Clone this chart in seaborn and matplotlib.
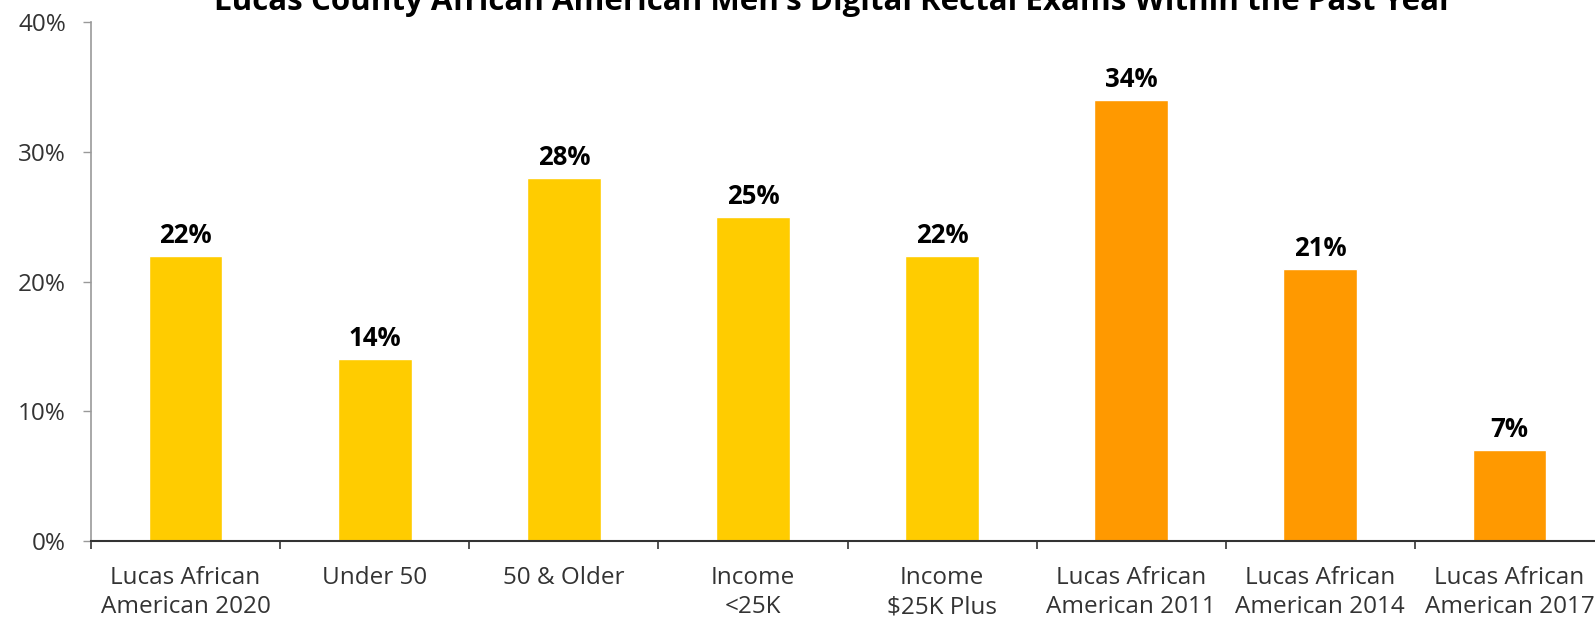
import pandas as pd
import numpy as np
import matplotlib
matplotlib.use("Agg")
import matplotlib.pyplot as plt
import seaborn as sns

# Data
categories = ["Lucas African\nAmerican 2020", "Under 50", "50 & Older", "Income\n<25K",
              "Income\n$25K Plus", "Lucas African\nAmerican 2011", "Lucas African\nAmerican 2014",
              "Lucas African\nAmerican 2017"]
values = [22, 14, 28, 25, 22, 34, 21, 7]
groups = ["2020", "2020", "2020", "2020", "2020", "trend", "trend", "trend"]
y_ticks = [0, 10, 20, 30, 40]
title = "Lucas County African American Men's Digital Rectal Exams Within the Past Year"

df = pd.DataFrame({"category": categories, "value": values, "group": groups})

sns.set_theme(style="white")
plt.rcParams['font.family'] = ['Open Sans', 'DejaVu Sans']

W, H = 1595, 619
fig = plt.figure(figsize=(W / 100, H / 100), dpi=100)
# axes deliberately run past the right edge, like the cropped reference
left, right, top, bottom = 91, 1604, 22.4, 541
ax = fig.add_axes([left / W, 1 - bottom / H, (right - left) / W, (bottom - top) / H])

sns.barplot(data=df, x="category", y="value", hue="group", dodge=False, width=0.39,
            palette={"2020": "#FFCC00", "trend": "#FF9900"}, legend=False, ax=ax,
            saturation=1)

for i, v in enumerate(values):
    ax.text(i, v + 0.55, f"{v}%", ha="center", va="bottom", fontsize=18.5,
            fontweight="bold", color="black")

ax.set_xlim(-0.5, len(categories) - 0.5)
ax.set_ylim(0, 40)
ax.set_yticks(y_ticks)
ax.set_yticklabels([f"{t}%" for t in y_ticks], fontsize=17.5, color="#333333")
ax.set_xticks(range(len(categories)))
ax.set_xticklabels(categories, fontsize=17.5, color="#333333", linespacing=1.3)
ax.set_xticks(np.arange(len(categories)) - 0.5, minor=True)
ax.tick_params(axis="x", which="major", length=0, pad=18)
ax.tick_params(axis="x", which="minor", length=6, width=1.2, color="#333333", direction="out", bottom=True)
ax.tick_params(axis="y", length=6, width=1, color="#999999", direction="out", left=True, pad=12)
ax.set_xlabel("")
ax.set_ylabel("")

for s in ["top", "right"]:
    ax.spines[s].set_visible(False)
ax.spines["left"].set_color("#999999")
ax.spines["left"].set_linewidth(1.2)
ax.spines["bottom"].set_color("#333333")
ax.spines["bottom"].set_linewidth(1.5)

# title sits partly above the top edge, as in the cropped reference
fig.text(834 / W, 1 - 10 / H, title, ha="center", va="baseline", fontsize=22.5,
         fontweight="bold", color="black")

fig.savefig("out.png", dpi=100, facecolor="white")
